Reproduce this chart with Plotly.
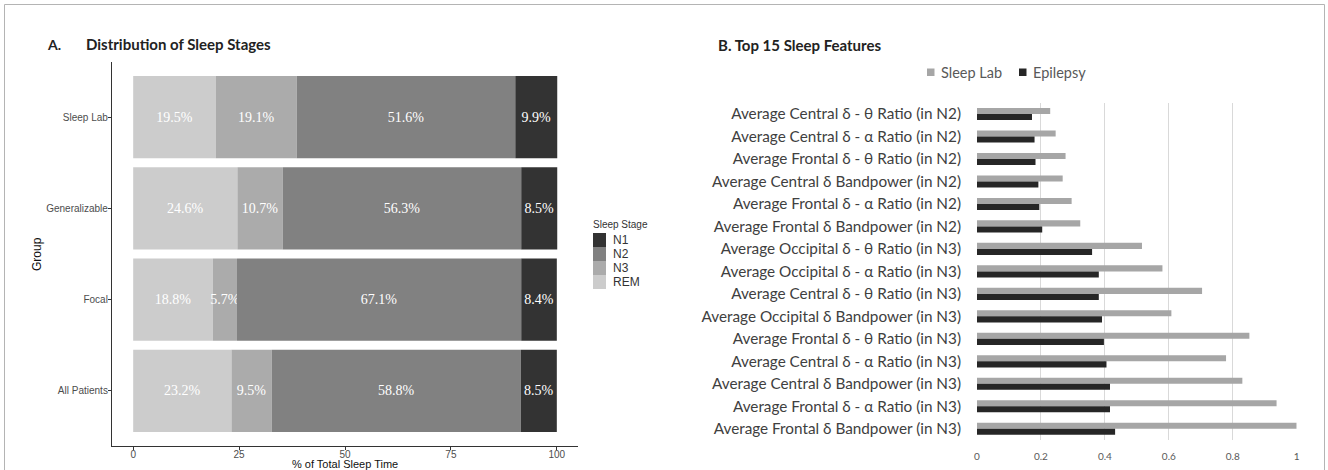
import plotly.graph_objects as go
import numpy as np

W, H = 1328, 470

# ---------------- Data: panel A ----------------
groups = ["Sleep Lab", "Generalizable", "Focal", "All Patients"]
stage_order = ["REM", "N3", "N2", "N1"]          # left-to-right stacking
legend_order = ["N1", "N2", "N3", "REM"]
rem = [19.5, 24.6, 18.8, 23.2]
n3 = [19.1, 10.7, 5.7, 9.5]
n2 = [51.6, 56.3, 67.1, 58.8]
n1 = [9.9, 8.5, 8.4, 8.5]
stage_colors = {"N1": "#333333", "N2": "#818181", "N3": "#ababab", "REM": "#cccccc"}
left_ticks = [0, 25, 50, 75, 100]

# ---------------- Data: panel B ----------------
features = [
    "Average Central δ - θ Ratio (in N2)",
    "Average Central δ - α Ratio (in N2)",
    "Average Frontal δ - θ Ratio (in N2)",
    "Average Central δ Bandpower (in N2)",
    "Average Frontal δ - α Ratio (in N2)",
    "Average Frontal δ Bandpower (in N2)",
    "Average Occipital δ - θ Ratio (in N3)",
    "Average Occipital δ - α Ratio (in N3)",
    "Average Central δ - θ Ratio (in N3)",
    "Average Occipital δ Bandpower (in N3)",
    "Average Frontal δ - θ Ratio (in N3)",
    "Average Central δ - α Ratio (in N3)",
    "Average Central δ Bandpower (in N3)",
    "Average Frontal δ - α Ratio (in N3)",
    "Average Frontal δ Bandpower (in N3)",
]
sleep_lab = [0.229, 0.246, 0.277, 0.268, 0.296, 0.323, 0.516, 0.580, 0.704,
             0.608, 0.852, 0.779, 0.830, 0.937, 1.000]
epilepsy = [0.172, 0.180, 0.183, 0.192, 0.195, 0.204, 0.360, 0.381, 0.381,
            0.391, 0.397, 0.405, 0.416, 0.416, 0.432]
right_ticks = [0, 0.2, 0.4, 0.6, 0.8, 1]
right_tick_text = ["0", "0.2", "0.4", "0.6", "0.8", "1"]
series_colors = {"Sleep Lab": "#a6a6a6", "Epilepsy": "#262626"}


def px(x):
    return x / W


def py(y):
    return 1 - y / H


fig = go.Figure()

# ---- Panel A stacked bars ----
stage_vals = {"REM": rem, "N3": n3, "N2": n2, "N1": n1}
base = np.zeros(len(groups))
for s in stage_order:
    v = np.array(stage_vals[s], dtype=float)
    fig.add_trace(go.Bar(
        y=groups, x=v, base=base.copy(), orientation="h", width=0.9,
        name=s, marker=dict(color=stage_colors[s], line=dict(width=0)),
        text=[f"{t:.1f}%" for t in v], textposition="inside",
        insidetextanchor="middle", constraintext="none", textangle=0,
        textfont=dict(family="Liberation Serif", size=14, color="white"),
        xaxis="x", yaxis="y", showlegend=False, hoverinfo="skip",
    ))
    base = base + v

# ---- Panel B grouped bars ----
bw = 0.27
fig.add_trace(go.Bar(
    y=features, x=sleep_lab, orientation="h", offset=-bw, width=bw,
    name="Sleep Lab", marker=dict(color=series_colors["Sleep Lab"], line=dict(width=0)),
    xaxis="x2", yaxis="y2", showlegend=False,
))
fig.add_trace(go.Bar(
    y=features, x=epilepsy, orientation="h", offset=0, width=bw,
    name="Epilepsy", marker=dict(color=series_colors["Epilepsy"], line=dict(width=0)),
    xaxis="x2", yaxis="y2", showlegend=False,
))

x0r, x1r = 977.0, 1296.7

shapes = []
annotations = []

# outer frame
shapes.append(dict(type="rect", xref="paper", yref="paper",
                   x0=px(4.5), x1=px(1324.5), y0=py(490), y1=py(4.5),
                   line=dict(color="#b4b4b4", width=1), fillcolor="rgba(0,0,0,0)"))

# Panel titles
annotations.append(dict(text="<b>A.</b>", x=px(45), y=py(44), xref="paper", yref="paper",
                        xanchor="left", yanchor="middle", showarrow=False,
                        font=dict(family="Lato", size=14, color="#222222")))
annotations.append(dict(text="<b>Distribution of Sleep Stages</b>", x=px(84), y=py(44),
                        xref="paper", yref="paper", xanchor="left", yanchor="middle",
                        showarrow=False, font=dict(family="Lato", size=15, color="#222222")))
annotations.append(dict(text="<b>B. Top 15 Sleep Features</b>", x=px(716), y=py(45),
                        xref="paper", yref="paper", xanchor="left", yanchor="middle",
                        showarrow=False, font=dict(family="Lato", size=15, color="#222222")))

# Axis titles of panel A
annotations.append(dict(text="% of Total Sleep Time", x=px(345), y=py(463.5), xref="paper",
                        yref="paper", xanchor="center", yanchor="middle", showarrow=False,
                        font=dict(family="Liberation Sans", size=11, color="#111111")))
annotations.append(dict(text="Group", x=px(37), y=py(254), xref="paper", yref="paper",
                        xanchor="center", yanchor="middle", showarrow=False, textangle=-90,
                        font=dict(family="Liberation Sans", size=12, color="#111111")))

# Panel A legend (manual keys)
annotations.append(dict(text="Sleep Stage", x=px(591), y=py(224), xref="paper", yref="paper",
                        xanchor="left", yanchor="middle", showarrow=False,
                        font=dict(family="Liberation Sans", size=10, color="#333333")))
for i, s in enumerate(legend_order):
    top = 233 + 14 * i
    shapes.append(dict(type="rect", xref="paper", yref="paper",
                       x0=px(593), x1=px(606), y0=py(top + 14), y1=py(top),
                       fillcolor=stage_colors[s], line=dict(width=0)))
    annotations.append(dict(text=s, x=px(611), y=py(top + 7), xref="paper", yref="paper",
                            xanchor="left", yanchor="middle", showarrow=False,
                            font=dict(family="Liberation Sans", size=12, color="#333333")))

# Panel B legend (manual keys)
leg_items = [("Sleep Lab", 927), ("Epilepsy", 1019)]
for name, lx in leg_items:
    shapes.append(dict(type="rect", xref="paper", yref="paper",
                       x0=px(lx), x1=px(lx + 7.5), y0=py(76), y1=py(68.5),
                       fillcolor=series_colors[name], line=dict(width=0)))
    annotations.append(dict(text=name, x=px(lx + 12), y=py(72), xref="paper", yref="paper",
                            xanchor="left", yanchor="middle", showarrow=False,
                            font=dict(family="Lato", size=14.5, color="#595959")))

fig.update_layout(
    width=W, height=H,
    margin=dict(l=0, r=0, t=0, b=0, pad=0),
    paper_bgcolor="white", plot_bgcolor="white",
    barmode="overlay", showlegend=False,
    shapes=shapes, annotations=annotations,
    xaxis=dict(
        domain=[px(112), px(578)], range=[-5, 105], anchor="y",
        tickmode="array", tickvals=left_ticks, ticktext=[str(t) for t in left_ticks],
        showline=True, linecolor="#333333", linewidth=1.2,
        ticks="outside", ticklen=3, tickcolor="#333333", tickwidth=1,
        ticklabelstandoff=-4,
        tickfont=dict(family="Liberation Sans", size=10, color="#4d4d4d"),
        showgrid=False, zeroline=False, automargin=False,
    ),
    yaxis=dict(
        domain=[py(445.6), py(62.4)], range=[3.6, -0.6], anchor="x", type="category",
        categoryorder="array", categoryarray=groups,
        showline=True, linecolor="#333333", linewidth=1.2,
        ticks="outside", ticklen=3, tickcolor="#333333", tickwidth=1,
        ticklabelstandoff=-2,
        tickfont=dict(family="Liberation Sans", size=10, color="#4d4d4d"),
        showgrid=False, zeroline=False, automargin=False,
    ),
    xaxis2=dict(
        domain=[px(x0r), px(x1r)], range=[0, 1], anchor="y2",
        tickmode="array", tickvals=right_ticks, ticktext=right_tick_text,
        showline=False, ticks="", ticklabelstandoff=9,
        tickfont=dict(family="Lato", size=10, color="#595959"),
        showgrid=True, gridcolor="#d9d9d9", gridwidth=1, zeroline=False, automargin=False,
    ),
    yaxis2=dict(
        domain=[py(440), py(102.8)], range=[14.5, -0.5], anchor="x2", type="category",
        categoryorder="array", categoryarray=features,
        showline=False, ticks="", ticklabelstandoff=15,
        tickfont=dict(family="Lato", size=15.3, color="#404040"),
        showgrid=False, zeroline=False, automargin=False,
    ),
)

fig.write_html("out.html")
